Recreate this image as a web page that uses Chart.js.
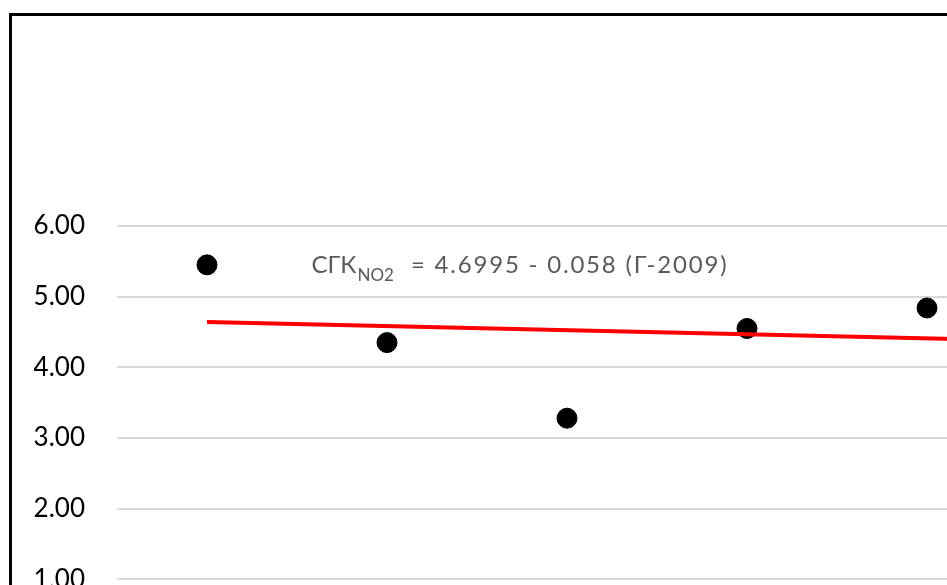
<!DOCTYPE html>
<html>
<head>
<meta charset="utf-8">
<script src="https://cdn.jsdelivr.net/npm/chart.js@4/dist/chart.umd.min.js"></script>
<style>
  html, body { margin: 0; padding: 0; background: #fff; overflow: hidden; width: 947px; height: 585px; }
  #frame { position: absolute; left: 9px; top: 13px; border: 3px solid #000; width: 1240px; height: 700px; background: #fff; }
  canvas { display: block; }
</style>
</head>
<body>
<div id="frame"><canvas id="c" width="1240" height="700"></canvas></div>
<script>
// Annual mean NO2 concentration and its linear trend
const years = [2010, 2011, 2012, 2013, 2014];
const values = [5.45, 4.35, 3.28, 4.55, 4.84];
const yTicks = [0, 1, 2, 3, 4, 5, 6];

// Trend: СГК = 4.6995 - 0.058 (Г - 2009)
const trendIntercept = 4.6995;
const trendSlope = -0.058;
const trendBaseYear = 2009;
const trendYears = [2010, 2015.5];

const trendLabelMain = 'СГК';
const trendLabelSub = 'NO2';
const trendLabelRest = '= 4.6995 - 0.058 (Г-2009)';

const FONT = "Lato, 'Open Sans', 'DejaVu Sans', sans-serif";

const points = years.map((y, i) => ({ x: y, y: values[i] }));
const trend = trendYears.map(y => ({ x: y, y: trendIntercept + trendSlope * (y - trendBaseYear) }));

const equationLabel = {
  id: 'equationLabel',
  afterDatasetsDraw(chart) {
    const { ctx, scales } = chart;
    const x0 = scales.x.getPixelForValue(2010.58);
    const base = scales.y.getPixelForValue(5.33);
    ctx.save();
    ctx.fillStyle = '#595959';
    ctx.textBaseline = 'alphabetic';
    ctx.textAlign = 'left';
    ctx.font = '24px ' + FONT;
    ctx.fillText(trendLabelMain, x0, base);
    const w1 = ctx.measureText(trendLabelMain).width;
    ctx.font = '17px ' + FONT;
    ctx.fillText(trendLabelSub, x0 + w1 + 1, base + 8);
    const w2 = ctx.measureText(trendLabelSub).width;
    ctx.font = '24px ' + FONT;
    ctx.letterSpacing = '1.8px';
    ctx.fillText(trendLabelRest, x0 + w1 + w2 + 18, base);
    ctx.restore();
  }
};

new Chart(document.getElementById('c'), {
  type: 'scatter',
  data: {
    datasets: [
      {
        type: 'line',
        data: trend,
        borderColor: '#ff0000',
        borderWidth: 4,
        pointRadius: 0,
        fill: false
      },
      {
        data: points,
        backgroundColor: '#000',
        borderColor: '#000',
        pointRadius: 10,
        pointHoverRadius: 10
      }
    ]
  },
  options: {
    responsive: false,
    animation: false,
    layout: { padding: { top: 210, bottom: 66, right: 55, left: 0 } },
    plugins: { legend: { display: false }, tooltip: { enabled: false } },
    scales: {
      x: { type: 'linear', min: 2009.5, max: 2015.5, display: false },
      y: {
        min: 0,
        max: 6,
        afterBuildTicks(scale) { scale.ticks = yTicks.map(v => ({ value: v })); },
        afterFit(scale) { scale.width = 105; },
        border: { display: false },
        grid: { color: '#d9d9d9', lineWidth: 2, drawTicks: false },
        ticks: {
          padding: 32,
          color: '#000',
          font: { family: FONT, size: 26 },
          callback: v => Number(v).toFixed(2)
        }
      }
    }
  },
  plugins: [equationLabel]
});
</script>
</body>
</html>
